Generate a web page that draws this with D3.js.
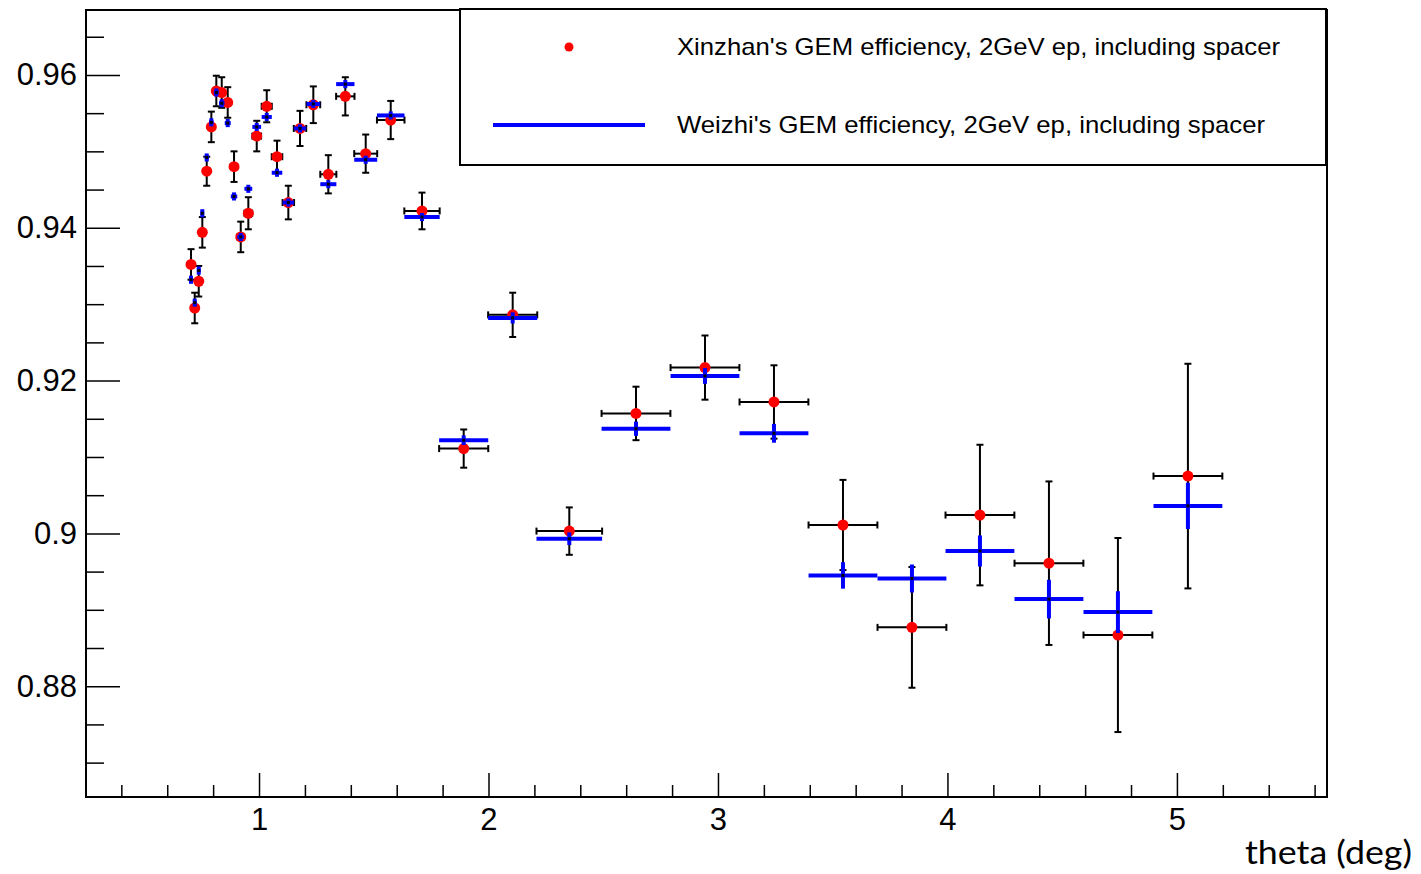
<!DOCTYPE html>
<html>
<head>
<meta charset="utf-8">
<script src="https://cdn.jsdelivr.net/npm/d3@7"></script>
<style>
  body { margin: 0; background: #fff; }
  svg { display: block; }
</style>
</head>
<body>
<div id="chart"></div>
<script>
var width = 1421, height = 874;
var frame = { left: 86, right: 1327, top: 10, bottom: 797 };

// bin centres (deg) and half widths
var theta = [0.7037, 0.7198, 0.7373, 0.7529, 0.7721, 0.7922, 0.8139, 0.8375, 0.8636, 0.8911,
  0.9203, 0.9534, 0.9900, 1.0336, 1.0784, 1.1277, 1.1786, 1.2366, 1.3020, 1.3760,
  1.4649, 1.5739, 1.7102, 1.8919, 2.1054, 2.3521, 2.6427, 2.9434, 3.2440, 3.5447,
  3.8453, 4.1416, 4.4423, 4.7429, 5.0479];
var thetaErr = [0.008, 0.008, 0.008, 0.008, 0.009, 0.010, 0.011, 0.012, 0.013, 0.014,
  0.015, 0.017, 0.019, 0.022, 0.023, 0.025, 0.027, 0.030, 0.035, 0.040,
  0.050, 0.060, 0.077, 0.107, 0.107, 0.143, 0.150, 0.150, 0.150, 0.150,
  0.150, 0.150, 0.150, 0.150, 0.150];

// Xinzhan's efficiency
var xinzhan = [0.9352, 0.9295, 0.9330, 0.9394, 0.9474, 0.9532, 0.9579, 0.9577, 0.9564, 0.9480,
  0.9388, 0.9419, 0.9520, 0.9559, 0.9493, 0.9433, 0.9530, 0.9561, 0.9470, 0.9572,
  0.9497, 0.9541, 0.9422, 0.9111, 0.9286, 0.9003, 0.9157, 0.9217, 0.9172, 0.9011,
  0.8877, 0.9024, 0.8961, 0.8867, 0.9075];
var xinzhanErr = [0.0020, 0.0020, 0.0020, 0.0020, 0.0019, 0.0020, 0.0020, 0.0020, 0.0020, 0.0020,
  0.0020, 0.0021, 0.0020, 0.0021, 0.0021, 0.0022, 0.0023, 0.0024, 0.0025, 0.0025,
  0.0025, 0.0025, 0.0024, 0.0025, 0.0029, 0.0031, 0.0035, 0.0042, 0.0048, 0.0059,
  0.0079, 0.0092, 0.0107, 0.0127, 0.0147];

// Weizhi's efficiency
var weizhi = [0.9332, 0.9302, 0.9344, 0.9419, 0.9492, 0.9538, 0.9577, 0.9563, 0.9537, 0.9441,
  0.9388, 0.9451, 0.9532, 0.9545, 0.9472, 0.9433, 0.9530, 0.9562, 0.9457, 0.9588,
  0.9489, 0.9547, 0.9414, 0.9122, 0.9282, 0.8993, 0.9137, 0.9206, 0.9131, 0.8945,
  0.8941, 0.8977, 0.8914, 0.8897, 0.9036];
var weizhiErr = [0.0004, 0.0004, 0.0004, 0.0004, 0.0004, 0.0004, 0.0004, 0.0004, 0.0004, 0.0004,
  0.0004, 0.0004, 0.0004, 0.0004, 0.0004, 0.0004, 0.0004, 0.0004, 0.0004, 0.0004,
  0.0004, 0.0004, 0.0004, 0.0005, 0.0006, 0.0007, 0.0008, 0.0009, 0.0011, 0.0016,
  0.0017, 0.0019, 0.0024, 0.0026, 0.0029];

var xMajor = [1, 2, 3, 4, 5];
var xMinor = [0.4, 0.6, 0.8, 1.2, 1.4, 1.6, 1.8, 2.2, 2.4, 2.6, 2.8, 3.2, 3.4, 3.6, 3.8,
  4.2, 4.4, 4.6, 4.8, 5.2, 5.4, 5.6];
var yMajor = [0.88, 0.9, 0.92, 0.94, 0.96];
var yMinor = [0.87, 0.875, 0.885, 0.89, 0.895, 0.905, 0.91, 0.915, 0.925, 0.93, 0.935,
  0.945, 0.95, 0.955, 0.965];
var legendLabels = ["Xinzhan's GEM efficiency, 2GeV ep, including spacer",
  "Weizhi's GEM efficiency, 2GeV ep, including spacer"];

var font = "'Liberation Sans', Arial, Helvetica, sans-serif";

var x = d3.scaleLinear().domain([0.246, 5.654]).range([frame.left, frame.right]);
var y = d3.scaleLinear().domain([0.8655, 0.9685]).range([frame.bottom, frame.top]);

var svg = d3.select("#chart").append("svg").attr("width", width).attr("height", height);

// axes (ticks point into the frame, like ROOT)
var gy = svg.append("g").attr("transform", "translate(" + frame.left + ",0)");
gy.call(d3.axisLeft(y).tickValues(yMajor).tickSize(-34).tickPadding(9)
  .tickFormat(function (d) { return d3.format("~g")(d); }));
gy.append("g").call(d3.axisLeft(y).tickValues(yMinor).tickSize(-18).tickFormat(""));

var gx = svg.append("g").attr("transform", "translate(0," + frame.bottom + ")");
gx.call(d3.axisBottom(x).tickValues(xMajor).tickSize(-24).tickPadding(11).tickFormat(d3.format("d")));
gx.append("g").call(d3.axisBottom(x).tickValues(xMinor).tickSize(-12).tickFormat(""));

svg.selectAll(".domain").remove();
svg.selectAll(".tick line").attr("stroke", "#000").attr("stroke-width", 1.5);
svg.selectAll(".tick text").attr("fill", "#000").style("font-family", font).style("font-size", "31px");

svg.append("rect")
  .attr("x", frame.left).attr("y", frame.top)
  .attr("width", frame.right - frame.left).attr("height", frame.bottom - frame.top)
  .attr("fill", "none").attr("stroke", "#000").attr("stroke-width", 2);

var idx = d3.range(theta.length);
var cap = 3.5;

// Xinzhan: black error bars + red markers
var gr = svg.append("g").attr("stroke", "#000").attr("stroke-width", 2);
gr.selectAll(".ev").data(idx).join("line")
  .attr("x1", function (i) { return x(theta[i]); }).attr("x2", function (i) { return x(theta[i]); })
  .attr("y1", function (i) { return y(xinzhan[i] - xinzhanErr[i]); })
  .attr("y2", function (i) { return y(xinzhan[i] + xinzhanErr[i]); });
gr.selectAll(".eh").data(idx).join("line")
  .attr("x1", function (i) { return x(theta[i] - thetaErr[i]); })
  .attr("x2", function (i) { return x(theta[i] + thetaErr[i]); })
  .attr("y1", function (i) { return y(xinzhan[i]); }).attr("y2", function (i) { return y(xinzhan[i]); });
[-1, 1].forEach(function (s) {
  gr.append("g").selectAll("line").data(idx).join("line")
    .attr("x1", function (i) { return x(theta[i]) - cap; }).attr("x2", function (i) { return x(theta[i]) + cap; })
    .attr("y1", function (i) { return y(xinzhan[i] + s * xinzhanErr[i]); })
    .attr("y2", function (i) { return y(xinzhan[i] + s * xinzhanErr[i]); });
  gr.append("g").selectAll("line").data(idx).join("line")
    .attr("x1", function (i) { return x(theta[i] + s * thetaErr[i]); })
    .attr("x2", function (i) { return x(theta[i] + s * thetaErr[i]); })
    .attr("y1", function (i) { return y(xinzhan[i]) - cap; })
    .attr("y2", function (i) { return y(xinzhan[i]) + cap; });
});
svg.append("g").selectAll("circle").data(idx).join("circle")
  .attr("cx", function (i) { return x(theta[i]); })
  .attr("cy", function (i) { return y(xinzhan[i]); })
  .attr("r", 5.5).attr("fill", "#ff0000");

// Weizhi: thick blue crosses
var gb = svg.append("g").attr("stroke", "#0000ff").attr("stroke-width", 4);
gb.selectAll(".bh").data(idx).join("line")
  .attr("x1", function (i) { return x(theta[i] - thetaErr[i]); })
  .attr("x2", function (i) { return x(theta[i] + thetaErr[i]); })
  .attr("y1", function (i) { return y(weizhi[i]); }).attr("y2", function (i) { return y(weizhi[i]); });
gb.append("g").selectAll("line").data(idx).join("line")
  .attr("x1", function (i) { return x(theta[i]); }).attr("x2", function (i) { return x(theta[i]); })
  .attr("y1", function (i) { return y(weizhi[i] - weizhiErr[i]) + 1; })
  .attr("y2", function (i) { return y(weizhi[i] + weizhiErr[i]) - 1; });
svg.append("g").selectAll("rect").data(idx).join("rect")
  .attr("x", function (i) { return x(theta[i]) - 1.5; })
  .attr("y", function (i) { return y(weizhi[i]) - 1.5; })
  .attr("width", 3).attr("height", 3).attr("fill", "#000");

// legend
var lg = svg.append("g");
lg.append("rect").attr("x", 460).attr("y", 9).attr("width", 866).attr("height", 156)
  .attr("fill", "#fff").attr("stroke", "#000").attr("stroke-width", 2);
lg.append("circle").attr("cx", 569).attr("cy", 47).attr("r", 4.5).attr("fill", "#ff0000");
lg.append("line").attr("x1", 493).attr("x2", 645).attr("y1", 125).attr("y2", 125)
  .attr("stroke", "#0000ff").attr("stroke-width", 4);
lg.selectAll("text").data(legendLabels).join("text")
  .attr("x", 677).attr("y", function (d, i) { return i === 0 ? 55 : 133; })
  .attr("textLength", function (d, i) { return i === 0 ? 603 : 588; })
  .attr("lengthAdjust", "spacingAndGlyphs")
  .style("font-family", font).style("font-size", "24px").attr("fill", "#000")
  .text(function (d) { return d; });

// axis title
svg.append("text").attr("x", 1412).attr("y", 864).attr("text-anchor", "end")
  .attr("textLength", 167).attr("lengthAdjust", "spacingAndGlyphs")
  .style("font-family", "Lato, 'Open Sans', sans-serif").style("font-size", "33px").attr("fill", "#000")
  .text("theta (deg)");
</script>
</body>
</html>
